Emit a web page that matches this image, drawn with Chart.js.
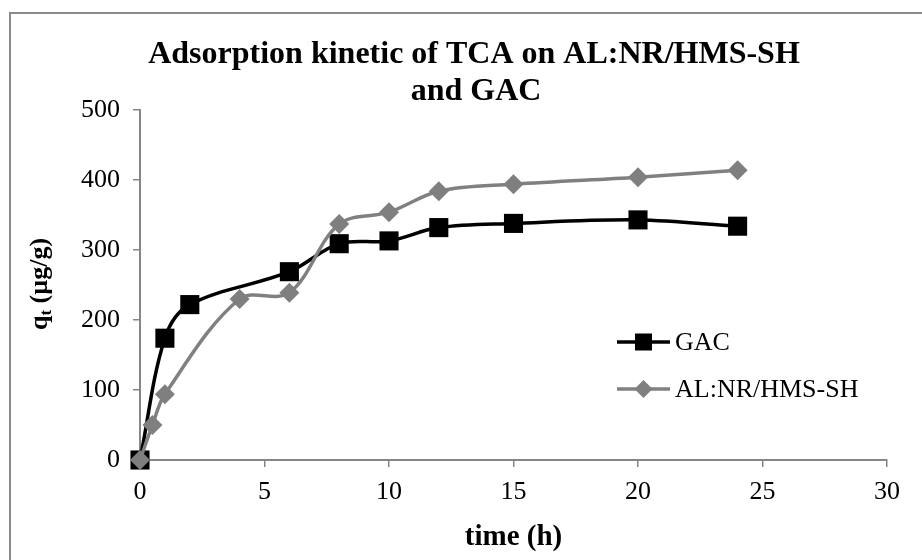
<!DOCTYPE html>
<html>
<head>
<meta charset="utf-8">
<script src="https://cdn.jsdelivr.net/npm/chart.js@4.4.1/dist/chart.umd.min.js"></script>
<style>
  html, body { margin: 0; padding: 0; background: #fff; }
  #wrap { position: relative; width: 922px; height: 560px; }
</style>
</head>
<body>
<div id="wrap"><canvas id="kinetic" width="922" height="560"></canvas></div>
<script>
// --- Data ---
const TIME_GAC  = [0, 1, 2, 6, 8, 10, 12, 15, 20, 24];
const Q_GAC     = [0, 174, 222, 269, 309, 313, 332, 338, 343, 334];
const TIME_ALNR = [0, 0.5, 1, 4, 6, 8, 10, 12, 15, 20, 24];
const Q_ALNR    = [0, 50, 94, 230, 239, 337, 354, 384, 394, 404, 414];

const TITLE_LINES = ['Adsorption kinetic of TCA on AL:NR/HMS-SH', 'and GAC'];
const X_LABEL = 'time (h)';
const SERIES_NAMES = ['GAC', 'AL:NR/HMS-SH'];

const SERIF = "'Times New Roman', 'Liberation Serif', serif";
const AXIS_GREY = '#868686';

function toPoints(xs, ys) {
    return xs.map((x, i) => ({ x, y: ys[i] }));
}

// Frame, title, rotated y title with subscript, and the in-plot legend
const decorPlugin = {
    id: 'decor',
    beforeDraw(chart) {
        const ctx = chart.ctx;
        ctx.save();
        ctx.fillStyle = '#fff';
        ctx.fillRect(0, 0, chart.width, chart.height);
        ctx.strokeStyle = '#8a8a8a';
        ctx.lineWidth = 2;
        ctx.beginPath();
        ctx.moveTo(10, chart.height + 5);
        ctx.lineTo(10, 13);
        ctx.lineTo(chart.width + 5, 13);
        ctx.stroke();
        ctx.restore();
    },
    afterDraw(chart) {
        const ctx = chart.ctx;
        ctx.save();

        // chart title
        ctx.fillStyle = '#000';
        ctx.font = `bold 32px ${SERIF}`;
        ctx.textAlign = 'center';
        ctx.textBaseline = 'alphabetic';
        ctx.fillText(TITLE_LINES[0], 474, 63);
        ctx.fillText(TITLE_LINES[1], 476, 100);

        // y axis title: q with subscript t
        ctx.translate(40, 284);
        ctx.rotate(-Math.PI / 2);
        const big = `bold 26px ${SERIF}`;
        const small = `bold 17px ${SERIF}`;
        ctx.font = big;
        const wq = ctx.measureText('q').width;
        const rest = ' (µg/g)';
        const wr = ctx.measureText(rest).width;
        ctx.font = small;
        const wt = ctx.measureText('t').width;
        let x0 = -(wq + wt + wr) / 2;
        ctx.textAlign = 'left';
        ctx.textBaseline = 'middle';
        ctx.font = big;
        ctx.fillText('q', x0, 0);
        ctx.font = small;
        ctx.fillText('t', x0 + wq, 7);
        ctx.font = big;
        ctx.fillText(rest, x0 + wq + wt, 0);
        ctx.restore();

        // legend
        ctx.save();
        const sets = chart.data.datasets;
        const rows = [342, 389];
        sets.forEach((ds, i) => {
            const y = rows[i];
            ctx.strokeStyle = ds.borderColor;
            ctx.lineWidth = ds.borderWidth;
            ctx.beginPath();
            ctx.moveTo(617, y);
            ctx.lineTo(670, y);
            ctx.stroke();
            ctx.fillStyle = ds.pointBackgroundColor;
            const cx = 643.5;
            if (ds.pointStyle === 'rect') {
                ctx.fillRect(cx - 8.5, y - 8.5, 17, 17);
            } else {
                ctx.beginPath();
                ctx.moveTo(cx, y - 9);
                ctx.lineTo(cx + 9, y);
                ctx.lineTo(cx, y + 9);
                ctx.lineTo(cx - 9, y);
                ctx.closePath();
                ctx.fill();
            }
            ctx.fillStyle = '#000';
            ctx.font = `26px ${SERIF}`;
            ctx.textAlign = 'left';
            ctx.textBaseline = 'middle';
            ctx.fillText(ds.label, 675, y + 1);
        });
        ctx.restore();
    }
};

const tickFont = { family: SERIF, size: 26 };

new Chart(document.getElementById('kinetic'), {
    type: 'line',
    data: {
        datasets: [{
            label: SERIES_NAMES[0],
            data: toPoints(TIME_GAC, Q_GAC),
            borderColor: '#000',
            borderWidth: 3.5,
            pointStyle: 'rect',
            pointRadius: 13.5,
            pointBackgroundColor: '#000',
            pointBorderColor: '#000',
            pointBorderWidth: 0,
            tension: 0.35,
            clip: false,
            order: 2,
        }, {
            label: SERIES_NAMES[1],
            data: toPoints(TIME_ALNR, Q_ALNR),
            borderColor: '#808080',
            borderWidth: 3.5,
            pointStyle: 'rectRot',
            pointRadius: 10,
            pointBackgroundColor: '#7f7f7f',
            pointBorderColor: '#7f7f7f',
            pointBorderWidth: 0,
            tension: 0.35,
            clip: false,
            order: 1,
        }]
    },
    options: {
        responsive: false,
        animation: false,
        events: [],
        layout: { padding: { top: 110, right: 35, left: 0, bottom: 0 } },
        plugins: {
            legend: { display: false },
            title: { display: false },
            tooltip: { enabled: false }
        },
        scales: {
            x: {
                type: 'linear',
                min: 0,
                max: 30,
                ticks: { stepSize: 5, color: '#000', font: tickFont, padding: 10 },
                grid: { drawOnChartArea: false, drawTicks: true, tickLength: 7, color: AXIS_GREY, lineWidth: 1.5 },
                border: { color: AXIS_GREY, width: 2 },
                title: {
                    display: true,
                    text: X_LABEL,
                    color: '#000',
                    font: { family: SERIF, size: 29, weight: 'bold' },
                    padding: { top: 4, bottom: 5 }
                },
                afterFit: s => { s.height = 100; }
            },
            y: {
                min: 0,
                max: 500,
                ticks: { stepSize: 100, color: '#000', font: tickFont, padding: 13 },
                grid: { drawOnChartArea: false, drawTicks: true, tickLength: 7, color: AXIS_GREY, lineWidth: 1.5 },
                border: { color: AXIS_GREY, width: 2 },
                afterFit: s => { s.width = 140; }
            }
        }
    },
    plugins: [decorPlugin]
});
</script>
</body>
</html>
